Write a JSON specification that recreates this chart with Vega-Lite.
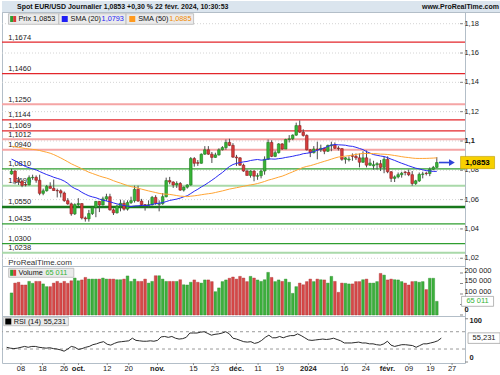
{
"$schema": "https://vega.github.io/schema/vega-lite/v6.json",
"padding": 0,
"background": "#ffffff",
"spacing": 0,
"bounds": "flush",
"config": {
 "font": "Liberation Sans",
 "locale": {"number": {"decimal": ",", "thousands": " ", "grouping": [3], "currency": ["", " €"]}},
 "view": {"stroke": "#b3bec8", "strokeWidth": 1},
 "axis": {"disable": true}
},
"datasets": {
 "entete": [
  {"cote": "gauche", "texte": "Spot EUR/USD Journalier 1,0853 +0,30 % 22 févr. 2024, 10:30:53"},
  {"cote": "droite", "texte": "www.ProRealTime.com"}
 ],
 "legende": [
  {"cle": "prix", "texte": "Prix 1,0853"},
  {"cle": "sma20", "texte": "SMA (20)"},
  {"cle": "sma20v", "texte": "1,0793"},
  {"cle": "sma50", "texte": "SMA (50)"},
  {"cle": "sma50v", "texte": "1,0885"},
  {"cle": "vol", "texte": "Volume"},
  {"cle": "volv", "texte": "65 011"},
  {"cle": "rsi", "texte": "RSI (14)"},
  {"cle": "rsiv", "texte": "55,231"},
  {"cle": "site", "texte": "ProRealTime.com"}
 ],
 "graduations": [
  {"axe": "prix", "valeur": 1.02}, {"axe": "prix", "valeur": 1.04}, {"axe": "prix", "valeur": 1.06},
  {"axe": "prix", "valeur": 1.08}, {"axe": "prix fort", "valeur": 1.1}, {"axe": "prix", "valeur": 1.12},
  {"axe": "prix", "valeur": 1.14}, {"axe": "prix", "valeur": 1.16}, {"axe": "prix", "valeur": 1.18},
  {"axe": "volume fort", "valeur": 0}, {"axe": "volume masqué", "valeur": 50000}, {"axe": "volume", "valeur": 100000},
  {"axe": "volume", "valeur": 150000}, {"axe": "volume", "valeur": 200000},
  {"axe": "rsi bas", "valeur": 0}, {"axe": "rsi haut", "valeur": 100}
 ],
 "dates": [
  {"i": 0, "etiquette": "08", "genre": "jour"},
  {"i": 6, "etiquette": "18", "genre": "jour"},
  {"i": 12, "etiquette": "26", "genre": "jour"},
  {"i": 16, "etiquette": "oct.", "genre": "mois"},
  {"i": 24, "etiquette": "12", "genre": "jour"},
  {"i": 30, "etiquette": "20", "genre": "jour"},
  {"i": 38, "etiquette": "nov.", "genre": "mois"},
  {"i": 48, "etiquette": "15", "genre": "jour"},
  {"i": 54, "etiquette": "23", "genre": "jour"},
  {"i": 60, "etiquette": "déc.", "genre": "mois"},
  {"i": 66, "etiquette": "11", "genre": "jour"},
  {"i": 72, "etiquette": "19", "genre": "jour"},
  {"i": 80, "etiquette": "2024", "genre": "mois"},
  {"i": 90, "etiquette": "16", "genre": "jour"},
  {"i": 96, "etiquette": "24", "genre": "jour"},
  {"i": 102, "etiquette": "févr.", "genre": "mois"},
  {"i": 108, "etiquette": "09", "genre": "jour"},
  {"i": 114, "etiquette": "19", "genre": "jour"},
  {"i": 120, "etiquette": "27", "genre": "jour"}
 ],
 "niveaux": [
  {"niveau": 1.1674, "texte": "1,1674", "type": "résistance"},
  {"niveau": 1.1460, "texte": "1,1460", "type": "résistance"},
  {"niveau": 1.1250, "texte": "1,1250", "type": "résistance mineure"},
  {"niveau": 1.1144, "texte": "1,1144", "type": "résistance"},
  {"niveau": 1.1069, "texte": "1,1069", "type": "résistance"},
  {"niveau": 1.1012, "texte": "1,1012", "type": "résistance mineure"},
  {"niveau": 1.0940, "texte": "1,0940", "type": "résistance mineure"},
  {"niveau": 1.0810, "texte": "1,0810", "type": "support"},
  {"niveau": 1.0695, "texte": "1,0695", "type": "support mineur"},
  {"niveau": 1.0550, "texte": "1,0550", "type": "support majeur"},
  {"niveau": 1.0435, "texte": "1,0435", "type": "support"},
  {"niveau": 1.0300, "texte": "1,0300", "type": "support"},
  {"niveau": 1.0238, "texte": "1,0238", "type": "support mineur"}
 ],
 "seuils": [{"seuil": 70}, {"seuil": 30}],
 "jours": [
{"i":-4,"date":"2023-09-04","o":1.0775,"h":1.0810,"l":1.0770,"c":1.0795,"v":105000,"sma20":1.08763,"sma50":1.09644,"rsi":34},
{"i":-3,"date":"2023-09-05","o":1.0795,"h":1.0800,"l":1.0705,"c":1.0722,"v":152000,"sma20":1.08646,"sma50":1.09596,"rsi":32},
{"i":-2,"date":"2023-09-06","o":1.0728,"h":1.0755,"l":1.0700,"c":1.0725,"v":156000,"sma20":1.08521,"sma50":1.09558,"rsi":31},
{"i":-1,"date":"2023-09-07","o":1.0725,"h":1.0730,"l":1.0685,"c":1.0697,"v":143000,"sma20":1.08380,"sma50":1.09524,"rsi":32},
{"i":0,"date":"2023-09-08","o":1.0703,"h":1.0720,"l":1.0690,"c":1.0700,"v":143000,"sma20":1.08255,"sma50":1.09482,"rsi":34},
{"i":1,"date":"2023-09-11","o":1.0700,"h":1.0765,"l":1.0698,"c":1.0750,"v":160000,"sma20":1.08177,"sma50":1.09450,"rsi":36},
{"i":2,"date":"2023-09-12","o":1.0750,"h":1.0770,"l":1.0735,"c":1.0752,"v":151000,"sma20":1.08101,"sma50":1.09425,"rsi":34},
{"i":3,"date":"2023-09-13","o":1.0752,"h":1.0765,"l":1.0715,"c":1.0732,"v":160000,"sma20":1.08029,"sma50":1.09400,"rsi":36},
{"i":4,"date":"2023-09-14","o":1.0732,"h":1.0770,"l":1.0630,"c":1.0643,"v":160000,"sma20":1.07915,"sma50":1.09351,"rsi":36},
{"i":5,"date":"2023-09-15","o":1.0643,"h":1.0675,"l":1.0630,"c":1.0660,"v":148000,"sma20":1.07810,"sma50":1.09289,"rsi":34},
{"i":6,"date":"2023-09-18","o":1.0660,"h":1.0700,"l":1.0655,"c":1.0690,"v":135000,"sma20":1.07708,"sma50":1.09233,"rsi":33},
{"i":7,"date":"2023-09-19","o":1.0690,"h":1.0718,"l":1.0675,"c":1.0677,"v":135000,"sma20":1.07624,"sma50":1.09166,"rsi":32},
{"i":8,"date":"2023-09-20","o":1.0677,"h":1.0737,"l":1.0660,"c":1.0662,"v":152000,"sma20":1.07525,"sma50":1.09073,"rsi":33},
{"i":9,"date":"2023-09-21","o":1.0662,"h":1.0675,"l":1.0615,"c":1.0660,"v":160000,"sma20":1.07450,"sma50":1.08960,"rsi":31},
{"i":10,"date":"2023-09-22","o":1.0660,"h":1.0670,"l":1.0615,"c":1.0645,"v":152000,"sma20":1.07375,"sma50":1.08843,"rsi":30},
{"i":11,"date":"2023-09-25","o":1.0645,"h":1.0655,"l":1.0585,"c":1.0593,"v":160000,"sma20":1.07264,"sma50":1.08714,"rsi":28},
{"i":12,"date":"2023-09-26","o":1.0593,"h":1.0610,"l":1.0565,"c":1.0571,"v":151000,"sma20":1.07109,"sma50":1.08583,"rsi":25},
{"i":13,"date":"2023-09-27","o":1.0571,"h":1.0580,"l":1.0490,"c":1.0503,"v":163000,"sma20":1.06898,"sma50":1.08444,"rsi":30},
{"i":14,"date":"2023-09-28","o":1.0503,"h":1.0575,"l":1.0495,"c":1.0566,"v":176000,"sma20":1.06759,"sma50":1.08331,"rsi":36},
{"i":15,"date":"2023-09-29","o":1.0566,"h":1.0610,"l":1.0555,"c":1.0573,"v":163000,"sma20":1.06658,"sma50":1.08221,"rsi":34},
{"i":16,"date":"2023-10-02","o":1.0573,"h":1.0575,"l":1.0465,"c":1.0475,"v":167000,"sma20":1.06498,"sma50":1.08103,"rsi":29},
{"i":17,"date":"2023-10-03","o":1.0475,"h":1.0485,"l":1.0450,"c":1.0469,"v":179000,"sma20":1.06371,"sma50":1.07986,"rsi":31},
{"i":18,"date":"2023-10-04","o":1.0469,"h":1.0530,"l":1.0450,"c":1.0505,"v":171000,"sma20":1.06261,"sma50":1.07870,"rsi":34},
{"i":19,"date":"2023-10-05","o":1.0505,"h":1.0550,"l":1.0495,"c":1.0546,"v":171000,"sma20":1.06186,"sma50":1.07784,"rsi":36},
{"i":20,"date":"2023-10-06","o":1.0546,"h":1.0590,"l":1.0480,"c":1.0588,"v":171000,"sma20":1.06130,"sma50":1.07698,"rsi":40},
{"i":21,"date":"2023-10-09","o":1.0588,"h":1.0590,"l":1.0515,"c":1.0564,"v":171000,"sma20":1.06037,"sma50":1.07612,"rsi":42},
{"i":22,"date":"2023-10-10","o":1.0564,"h":1.0620,"l":1.0560,"c":1.0605,"v":176000,"sma20":1.05963,"sma50":1.07536,"rsi":45},
{"i":23,"date":"2023-10-11","o":1.0605,"h":1.0640,"l":1.0590,"c":1.0620,"v":171000,"sma20":1.05907,"sma50":1.07473,"rsi":47},
{"i":24,"date":"2023-10-12","o":1.0620,"h":1.0640,"l":1.0525,"c":1.0530,"v":171000,"sma20":1.05851,"sma50":1.07390,"rsi":41},
{"i":25,"date":"2023-10-13","o":1.0530,"h":1.0540,"l":1.0495,"c":1.0510,"v":171000,"sma20":1.05776,"sma50":1.07291,"rsi":39},
{"i":26,"date":"2023-10-16","o":1.0510,"h":1.0565,"l":1.0505,"c":1.0555,"v":168000,"sma20":1.05708,"sma50":1.07203,"rsi":43},
{"i":27,"date":"2023-10-17","o":1.0555,"h":1.0600,"l":1.0520,"c":1.0575,"v":168000,"sma20":1.05657,"sma50":1.07127,"rsi":46},
{"i":28,"date":"2023-10-18","o":1.0575,"h":1.0595,"l":1.0525,"c":1.0535,"v":171000,"sma20":1.05594,"sma50":1.07039,"rsi":47},
{"i":29,"date":"2023-10-19","o":1.0535,"h":1.0595,"l":1.0525,"c":1.0580,"v":186000,"sma20":1.05554,"sma50":1.06959,"rsi":48},
{"i":30,"date":"2023-10-20","o":1.0580,"h":1.0620,"l":1.0570,"c":1.0593,"v":160000,"sma20":1.05528,"sma50":1.06887,"rsi":49},
{"i":31,"date":"2023-10-23","o":1.0593,"h":1.0695,"l":1.0580,"c":1.0670,"v":171000,"sma20":1.05566,"sma50":1.06840,"rsi":55},
{"i":32,"date":"2023-10-24","o":1.0670,"h":1.0695,"l":1.0585,"c":1.0590,"v":160000,"sma20":1.05576,"sma50":1.06777,"rsi":50},
{"i":33,"date":"2023-10-25","o":1.0590,"h":1.0605,"l":1.0555,"c":1.0565,"v":160000,"sma20":1.05607,"sma50":1.06715,"rsi":49},
{"i":34,"date":"2023-10-26","o":1.0565,"h":1.0570,"l":1.0525,"c":1.0562,"v":171000,"sma20":1.05606,"sma50":1.06654,"rsi":48},
{"i":35,"date":"2023-10-27","o":1.0562,"h":1.0595,"l":1.0545,"c":1.0565,"v":152000,"sma20":1.05602,"sma50":1.06593,"rsi":48},
{"i":36,"date":"2023-10-30","o":1.0565,"h":1.0625,"l":1.0560,"c":1.0615,"v":160000,"sma20":1.05672,"sma50":1.06537,"rsi":49},
{"i":37,"date":"2023-10-31","o":1.0615,"h":1.0630,"l":1.0565,"c":1.0575,"v":187000,"sma20":1.05725,"sma50":1.06483,"rsi":48},
{"i":38,"date":"2023-11-01","o":1.0568,"h":1.0595,"l":1.0520,"c":1.0572,"v":187000,"sma20":1.05758,"sma50":1.06425,"rsi":50},
{"i":39,"date":"2023-11-02","o":1.0572,"h":1.0645,"l":1.0565,"c":1.0620,"v":171000,"sma20":1.05795,"sma50":1.06387,"rsi":58},
{"i":40,"date":"2023-11-03","o":1.0620,"h":1.0750,"l":1.0615,"c":1.0730,"v":160000,"sma20":1.05866,"sma50":1.06374,"rsi":59},
{"i":41,"date":"2023-11-06","o":1.0730,"h":1.0755,"l":1.0705,"c":1.0720,"v":160000,"sma20":1.05944,"sma50":1.06355,"rsi":57},
{"i":42,"date":"2023-11-07","o":1.0720,"h":1.0725,"l":1.0680,"c":1.0700,"v":160000,"sma20":1.05991,"sma50":1.06319,"rsi":59},
{"i":43,"date":"2023-11-08","o":1.0700,"h":1.0725,"l":1.0680,"c":1.0710,"v":160000,"sma20":1.06036,"sma50":1.06276,"rsi":55},
{"i":44,"date":"2023-11-09","o":1.0710,"h":1.0720,"l":1.0660,"c":1.0665,"v":168000,"sma20":1.06104,"sma50":1.06240,"rsi":53},
{"i":45,"date":"2023-11-10","o":1.0665,"h":1.0690,"l":1.0655,"c":1.0685,"v":144000,"sma20":1.06191,"sma50":1.06222,"rsi":54},
{"i":46,"date":"2023-11-13","o":1.0685,"h":1.0705,"l":1.0675,"c":1.0700,"v":143000,"sma20":1.06264,"sma50":1.06203,"rsi":57},
{"i":47,"date":"2023-11-14","o":1.0700,"h":1.0890,"l":1.0695,"c":1.0880,"v":156000,"sma20":1.06416,"sma50":1.06235,"rsi":67},
{"i":48,"date":"2023-11-15","o":1.0880,"h":1.0890,"l":1.0825,"c":1.0848,"v":167000,"sma20":1.06573,"sma50":1.06259,"rsi":67},
{"i":49,"date":"2023-11-16","o":1.0852,"h":1.0870,"l":1.0830,"c":1.0848,"v":156000,"sma20":1.06708,"sma50":1.06290,"rsi":67},
{"i":50,"date":"2023-11-17","o":1.0848,"h":1.0915,"l":1.0845,"c":1.0910,"v":152000,"sma20":1.06866,"sma50":1.06332,"rsi":69},
{"i":51,"date":"2023-11-20","o":1.0910,"h":1.0965,"l":1.0905,"c":1.0940,"v":167000,"sma20":1.07001,"sma50":1.06370,"rsi":70},
{"i":52,"date":"2023-11-21","o":1.0940,"h":1.0965,"l":1.0905,"c":1.0910,"v":167000,"sma20":1.07161,"sma50":1.06402,"rsi":66},
{"i":53,"date":"2023-11-22","o":1.0910,"h":1.0925,"l":1.0850,"c":1.0888,"v":159000,"sma20":1.07323,"sma50":1.06433,"rsi":62},
{"i":54,"date":"2023-11-23","o":1.0888,"h":1.0920,"l":1.0885,"c":1.0905,"v":111000,"sma20":1.07493,"sma50":1.06485,"rsi":64},
{"i":55,"date":"2023-11-24","o":1.0905,"h":1.0950,"l":1.0900,"c":1.0940,"v":129000,"sma20":1.07680,"sma50":1.06541,"rsi":65},
{"i":56,"date":"2023-11-27","o":1.0940,"h":1.0965,"l":1.0935,"c":1.0955,"v":159000,"sma20":1.07850,"sma50":1.06594,"rsi":67},
{"i":57,"date":"2023-11-28","o":1.0955,"h":1.1010,"l":1.0940,"c":1.0990,"v":167000,"sma20":1.08058,"sma50":1.06657,"rsi":70},
{"i":58,"date":"2023-11-29","o":1.0990,"h":1.1015,"l":1.0965,"c":1.0970,"v":175000,"sma20":1.08258,"sma50":1.06718,"rsi":65},
{"i":59,"date":"2023-11-30","o":1.0970,"h":1.0985,"l":1.0885,"c":1.0890,"v":181000,"sma20":1.08393,"sma50":1.06764,"rsi":55},
{"i":60,"date":"2023-12-01","o":1.0890,"h":1.0905,"l":1.0830,"c":1.0885,"v":171000,"sma20":1.08471,"sma50":1.06812,"rsi":53},
{"i":61,"date":"2023-12-04","o":1.0885,"h":1.0890,"l":1.0830,"c":1.0835,"v":184000,"sma20":1.08528,"sma50":1.06861,"rsi":50},
{"i":62,"date":"2023-12-05","o":1.0835,"h":1.0845,"l":1.0790,"c":1.0795,"v":176000,"sma20":1.08576,"sma50":1.06906,"rsi":47},
{"i":63,"date":"2023-12-06","o":1.0795,"h":1.0805,"l":1.0765,"c":1.0765,"v":159000,"sma20":1.08603,"sma50":1.06958,"rsi":46},
{"i":64,"date":"2023-12-07","o":1.0765,"h":1.0800,"l":1.0750,"c":1.0795,"v":184000,"sma20":1.08668,"sma50":1.07004,"rsi":47},
{"i":65,"date":"2023-12-08","o":1.0795,"h":1.0800,"l":1.0725,"c":1.0760,"v":176000,"sma20":1.08706,"sma50":1.07041,"rsi":43},
{"i":66,"date":"2023-12-11","o":1.0760,"h":1.0780,"l":1.0735,"c":1.0763,"v":167000,"sma20":1.08737,"sma50":1.07099,"rsi":45},
{"i":67,"date":"2023-12-12","o":1.0763,"h":1.0805,"l":1.0745,"c":1.0795,"v":160000,"sma20":1.08695,"sma50":1.07164,"rsi":50},
{"i":68,"date":"2023-12-13","o":1.0795,"h":1.0895,"l":1.0770,"c":1.0875,"v":168000,"sma20":1.08708,"sma50":1.07238,"rsi":57},
{"i":69,"date":"2023-12-14","o":1.0875,"h":1.1010,"l":1.0870,"c":1.0990,"v":203000,"sma20":1.08778,"sma50":1.07327,"rsi":62},
{"i":70,"date":"2023-12-15","o":1.0990,"h":1.1005,"l":1.0890,"c":1.0895,"v":179000,"sma20":1.08771,"sma50":1.07388,"rsi":56},
{"i":71,"date":"2023-12-18","o":1.0895,"h":1.0935,"l":1.0890,"c":1.0920,"v":159000,"sma20":1.08761,"sma50":1.07459,"rsi":56},
{"i":72,"date":"2023-12-19","o":1.0920,"h":1.0985,"l":1.0915,"c":1.0980,"v":167000,"sma20":1.08796,"sma50":1.07534,"rsi":59},
{"i":73,"date":"2023-12-20","o":1.0980,"h":1.0985,"l":1.0940,"c":1.0945,"v":160000,"sma20":1.08824,"sma50":1.07599,"rsi":56},
{"i":74,"date":"2023-12-21","o":1.0945,"h":1.1015,"l":1.0945,"c":1.1010,"v":171000,"sma20":1.08877,"sma50":1.07695,"rsi":59},
{"i":75,"date":"2023-12-22","o":1.1010,"h":1.1040,"l":1.0990,"c":1.1015,"v":156000,"sma20":1.08914,"sma50":1.07796,"rsi":61},
{"i":76,"date":"2023-12-26","o":1.1015,"h":1.1045,"l":1.1005,"c":1.1040,"v":103000,"sma20":1.08957,"sma50":1.07893,"rsi":61},
{"i":77,"date":"2023-12-27","o":1.1040,"h":1.1125,"l":1.1035,"c":1.1105,"v":135000,"sma20":1.09014,"sma50":1.07999,"rsi":65},
{"i":78,"date":"2023-12-28","o":1.1105,"h":1.1140,"l":1.1055,"c":1.1060,"v":152000,"sma20":1.09059,"sma50":1.08104,"rsi":61},
{"i":79,"date":"2023-12-29","o":1.1060,"h":1.1080,"l":1.1030,"c":1.1038,"v":144000,"sma20":1.09133,"sma50":1.08196,"rsi":56},
{"i":80,"date":"2024-01-02","o":1.1038,"h":1.1045,"l":1.0935,"c":1.0940,"v":159000,"sma20":1.09161,"sma50":1.08265,"rsi":51},
{"i":81,"date":"2024-01-03","o":1.0940,"h":1.0945,"l":1.0890,"c":1.0920,"v":171000,"sma20":1.09203,"sma50":1.08315,"rsi":50},
{"i":82,"date":"2024-01-04","o":1.0920,"h":1.0965,"l":1.0915,"c":1.0945,"v":159000,"sma20":1.09278,"sma50":1.08386,"rsi":51},
{"i":83,"date":"2024-01-05","o":1.0945,"h":1.0995,"l":1.0875,"c":1.0940,"v":171000,"sma20":1.09366,"sma50":1.08461,"rsi":52},
{"i":84,"date":"2024-01-08","o":1.0940,"h":1.0975,"l":1.0925,"c":1.0950,"v":168000,"sma20":1.09443,"sma50":1.08538,"rsi":53},
{"i":85,"date":"2024-01-09","o":1.0950,"h":1.0955,"l":1.0910,"c":1.0930,"v":167000,"sma20":1.09528,"sma50":1.08611,"rsi":52},
{"i":86,"date":"2024-01-10","o":1.0930,"h":1.0975,"l":1.0925,"c":1.0970,"v":152000,"sma20":1.09632,"sma50":1.08682,"rsi":53},
{"i":87,"date":"2024-01-11","o":1.0967,"h":1.0995,"l":1.0930,"c":1.0973,"v":184000,"sma20":1.09719,"sma50":1.08761,"rsi":55},
{"i":88,"date":"2024-01-12","o":1.0973,"h":1.0990,"l":1.0945,"c":1.0950,"v":160000,"sma20":1.09757,"sma50":1.08837,"rsi":52},
{"i":89,"date":"2024-01-15","o":1.0952,"h":1.0965,"l":1.0935,"c":1.0948,"v":108000,"sma20":1.09737,"sma50":1.08903,"rsi":49},
{"i":90,"date":"2024-01-16","o":1.0948,"h":1.0950,"l":1.0865,"c":1.0875,"v":152000,"sma20":1.09727,"sma50":1.08932,"rsi":44},
{"i":91,"date":"2024-01-17","o":1.0875,"h":1.0890,"l":1.0845,"c":1.0885,"v":151000,"sma20":1.09709,"sma50":1.08965,"rsi":44},
{"i":92,"date":"2024-01-18","o":1.0872,"h":1.0895,"l":1.0860,"c":1.0877,"v":148000,"sma20":1.09657,"sma50":1.09000,"rsi":44},
{"i":93,"date":"2024-01-19","o":1.0900,"h":1.0915,"l":1.0865,"c":1.0895,"v":148000,"sma20":1.09633,"sma50":1.09038,"rsi":45},
{"i":94,"date":"2024-01-22","o":1.0895,"h":1.0915,"l":1.0870,"c":1.0885,"v":159000,"sma20":1.09570,"sma50":1.09082,"rsi":46},
{"i":95,"date":"2024-01-23","o":1.0885,"h":1.0915,"l":1.0820,"c":1.0855,"v":159000,"sma20":1.09490,"sma50":1.09116,"rsi":44},
{"i":96,"date":"2024-01-24","o":1.0855,"h":1.0930,"l":1.0850,"c":1.0885,"v":168000,"sma20":1.09413,"sma50":1.09153,"rsi":44},
{"i":97,"date":"2024-01-25","o":1.0885,"h":1.0935,"l":1.0820,"c":1.0835,"v":171000,"sma20":1.09278,"sma50":1.09144,"rsi":42},
{"i":98,"date":"2024-01-26","o":1.0835,"h":1.0880,"l":1.0830,"c":1.0850,"v":152000,"sma20":1.09173,"sma50":1.09144,"rsi":42},
{"i":99,"date":"2024-01-29","o":1.0830,"h":1.0865,"l":1.0805,"c":1.0838,"v":152000,"sma20":1.09071,"sma50":1.09141,"rsi":40},
{"i":100,"date":"2024-01-30","o":1.0838,"h":1.0855,"l":1.0805,"c":1.0845,"v":159000,"sma20":1.09024,"sma50":1.09128,"rsi":39},
{"i":101,"date":"2024-01-31","o":1.0845,"h":1.0870,"l":1.0795,"c":1.0820,"v":198000,"sma20":1.08974,"sma50":1.09104,"rsi":42},
{"i":102,"date":"2024-02-01","o":1.0820,"h":1.0895,"l":1.0780,"c":1.0875,"v":190000,"sma20":1.08939,"sma50":1.09097,"rsi":48},
{"i":103,"date":"2024-02-02","o":1.0875,"h":1.0895,"l":1.0780,"c":1.0790,"v":167000,"sma20":1.08864,"sma50":1.09078,"rsi":39},
{"i":104,"date":"2024-02-05","o":1.0790,"h":1.0795,"l":1.0720,"c":1.0745,"v":171000,"sma20":1.08761,"sma50":1.09046,"rsi":36},
{"i":105,"date":"2024-02-06","o":1.0745,"h":1.0765,"l":1.0720,"c":1.0755,"v":168000,"sma20":1.08674,"sma50":1.09009,"rsi":38},
{"i":106,"date":"2024-02-07","o":1.0755,"h":1.0785,"l":1.0745,"c":1.0770,"v":167000,"sma20":1.08574,"sma50":1.08972,"rsi":40},
{"i":107,"date":"2024-02-08","o":1.0770,"h":1.0790,"l":1.0750,"c":1.0780,"v":159000,"sma20":1.08479,"sma50":1.08930,"rsi":40},
{"i":108,"date":"2024-02-09","o":1.0788,"h":1.0795,"l":1.0765,"c":1.0785,"v":152000,"sma20":1.08396,"sma50":1.08893,"rsi":39},
{"i":109,"date":"2024-02-12","o":1.0785,"h":1.0805,"l":1.0760,"c":1.0770,"v":143000,"sma20":1.08306,"sma50":1.08869,"rsi":38},
{"i":110,"date":"2024-02-13","o":1.0770,"h":1.0795,"l":1.0695,"c":1.0710,"v":159000,"sma20":1.08224,"sma50":1.08834,"rsi":34},
{"i":111,"date":"2024-02-14","o":1.0710,"h":1.0735,"l":1.0700,"c":1.0728,"v":160000,"sma20":1.08145,"sma50":1.08812,"rsi":38},
{"i":112,"date":"2024-02-15","o":1.0728,"h":1.0785,"l":1.0720,"c":1.0772,"v":156000,"sma20":1.08094,"sma50":1.08808,"rsi":42},
{"i":113,"date":"2024-02-16","o":1.0772,"h":1.0790,"l":1.0745,"c":1.0775,"v":159000,"sma20":1.08033,"sma50":1.08810,"rsi":42},
{"i":114,"date":"2024-02-19","o":1.0780,"h":1.0790,"l":1.0765,"c":1.0778,"v":121000,"sma20":1.07979,"sma50":1.08812,"rsi":44},
{"i":115,"date":"2024-02-20","o":1.0778,"h":1.0820,"l":1.0760,"c":1.0807,"v":175000,"sma20":1.07955,"sma50":1.08822,"rsi":46},
{"i":116,"date":"2024-02-21","o":1.0807,"h":1.0830,"l":1.0800,"c":1.0820,"v":175000,"sma20":1.07922,"sma50":1.08833,"rsi":49},
{"i":117,"date":"2024-02-22","o":1.0820,"h":1.0890,"l":1.0815,"c":1.0853,"v":65011,"sma20":1.0793,"sma50":1.0885,"rsi":55.231}
 ]
},
"vconcat": [
 {
  "width": 500, "height": 11,
  "data": {"name": "entete"},
  "layer": [
   {"transform": [{"filter": "datum.cote === 'gauche'"}],
    "mark": {"type": "rect", "color": "#dbe5ee"},
    "encoding": {
     "x": {"datum": 0, "type": "quantitative", "scale": {"domain": [0, 1], "nice": false, "zero": false}, "axis": null},
     "x2": {"datum": 1},
     "y": {"datum": 0, "type": "quantitative", "scale": {"domain": [0, 1], "nice": false, "zero": false}, "axis": null},
     "y2": {"datum": 1}}},
   {"transform": [{"filter": "datum.cote === 'gauche'"}],
    "mark": {"type": "text", "align": "left", "baseline": "middle", "dx": 15, "fontWeight": "bold", "fontSize": 7, "color": "#111111"},
    "encoding": {"x": {"datum": 0, "type": "quantitative", "axis": null}, "y": {"datum": 0.5, "type": "quantitative", "axis": null}, "text": {"field": "texte"}}},
   {"transform": [{"filter": "datum.cote === 'droite'"}],
    "mark": {"type": "text", "align": "right", "baseline": "middle", "dx": -3, "fontWeight": "bold", "fontSize": 7, "color": "#111111"},
    "encoding": {"x": {"datum": 1, "type": "quantitative", "axis": null}, "y": {"datum": 0.5, "type": "quantitative", "axis": null}, "text": {"field": "texte"}}}
  ]
 },
 {
  "width": 463, "height": 254,
  "layer": [
   {
    "data": {"name": "graduations"},
    "transform": [{"filter": "datum.axe === 'prix' || datum.axe === 'prix fort'"}],
    "mark": {"type": "rule", "color": "#d4d4d4", "strokeDash": [1, 2], "strokeWidth": 1},
    "encoding": {
     "y": {"field": "valeur", "type": "quantitative", "axis": null,
       "scale": {"domain": [1.01472, 1.18798], "nice": false, "zero": false}}
    }
   },
   {
    "data": {"name": "graduations"},
    "transform": [{"filter": "datum.axe === 'prix' || datum.axe === 'prix fort'"}],
    "mark": {"type": "rule", "color": "#888888", "strokeWidth": 1},
    "encoding": {
     "x": {"datum": 123.6, "type": "quantitative", "axis": null, "scale": {"domain": [-5.29, 123.6], "nice": false, "zero": false}},
     "x2": {"datum": 124.45},
     "y": {"field": "valeur", "type": "quantitative", "axis": null}
    }
   },
   {
    "data": {"name": "graduations"},
    "transform": [{"filter": "datum.axe === 'prix'"}],
    "mark": {"type": "text", "align": "left", "baseline": "middle", "fontSize": 7.5, "color": "#222222"},
    "encoding": {
     "x": {"datum": 124.86, "type": "quantitative", "axis": null},
     "y": {"field": "valeur", "type": "quantitative", "axis": null},
     "text": {"field": "valeur", "type": "quantitative", "format": ".2~f"}
    }
   },
   {
    "data": {"name": "graduations"},
    "transform": [{"filter": "datum.axe === 'prix fort'"}],
    "mark": {"type": "text", "align": "left", "baseline": "middle", "fontSize": 7.5, "fontWeight": "bold", "color": "#222222"},
    "encoding": {
     "x": {"datum": 124.86, "type": "quantitative", "axis": null},
     "y": {"field": "valeur", "type": "quantitative", "axis": null},
     "text": {"field": "valeur", "type": "quantitative", "format": ".2~f"}
    }
   },
   {
    "data": {"name": "niveaux"},
    "transform": [{"filter": "datum.type === 'résistance'"}],
    "mark": {"type": "rule", "color": "#e3262b", "strokeWidth": 1.2},
    "encoding": {"y": {"field": "niveau", "type": "quantitative", "axis": null}}
   },
   {
    "data": {"name": "niveaux"},
    "transform": [{"filter": "datum.type === 'résistance mineure'"}],
    "mark": {"type": "rule", "color": "#f5a5a5", "strokeWidth": 2},
    "encoding": {"y": {"field": "niveau", "type": "quantitative", "axis": null}}
   },
   {
    "data": {"name": "niveaux"},
    "transform": [{"filter": "datum.type === 'support'"}],
    "mark": {"type": "rule", "color": "#2f9e2f", "strokeWidth": 1.2},
    "encoding": {"y": {"field": "niveau", "type": "quantitative", "axis": null}}
   },
   {
    "data": {"name": "niveaux"},
    "transform": [{"filter": "datum.type === 'support mineur'"}],
    "mark": {"type": "rule", "color": "#a9d9a9", "strokeWidth": 2},
    "encoding": {"y": {"field": "niveau", "type": "quantitative", "axis": null}}
   },
   {
    "data": {"name": "niveaux"},
    "transform": [{"filter": "datum.type === 'support majeur'"}],
    "mark": {"type": "rule", "color": "#17781b", "strokeWidth": 2.5},
    "encoding": {"y": {"field": "niveau", "type": "quantitative", "axis": null}}
   },
   {
    "data": {"name": "niveaux"},
    "mark": {"type": "text", "align": "left", "baseline": "bottom", "dy": -0.5, "fontSize": 7.5, "color": "#1a1a1a"},
    "encoding": {
     "x": {"datum": -4.95, "type": "quantitative", "axis": null},
     "y": {"field": "niveau", "type": "quantitative", "axis": null},
     "text": {"field": "texte"}
    }
   },
   {
    "data": {"name": "jours"},
    "mark": {"type": "rule", "color": "#4d4d4d", "strokeWidth": 1},
    "encoding": {
     "x": {"field": "i", "type": "quantitative", "axis": null},
     "y": {"field": "l", "type": "quantitative", "axis": null},
     "y2": {"field": "h"}
    }
   },
   {
    "data": {"name": "jours"},
    "mark": {"type": "bar", "size": 2.6, "strokeWidth": 0.6},
    "encoding": {
     "x": {"field": "i", "type": "quantitative", "axis": null},
     "y": {"field": "o", "type": "quantitative", "axis": null},
     "y2": {"field": "c"},
     "fill": {"condition": {"test": "datum.c >= datum.o", "value": "#37b337"}, "value": "#d83c3c"},
     "stroke": {"condition": {"test": "datum.c >= datum.o", "value": "#1f7d1f"}, "value": "#8f1f1f"}
    }
   },
   {
    "data": {"name": "jours"},
    "mark": {"type": "line", "color": "#2a2af2", "strokeWidth": 1},
    "encoding": {
     "x": {"field": "i", "type": "quantitative", "axis": null},
     "y": {"field": "sma20", "type": "quantitative", "axis": null}
    }
   },
   {
    "data": {"name": "jours"},
    "mark": {"type": "line", "color": "#ffa534", "strokeWidth": 1},
    "encoding": {
     "x": {"field": "i", "type": "quantitative", "axis": null},
     "y": {"field": "sma50", "type": "quantitative", "axis": null}
    }
   },
   {
    "data": {"name": "jours"},
    "transform": [{"filter": "datum.i === 117"}],
    "mark": {"type": "rule", "color": "#2f45d8", "strokeWidth": 1.6},
    "encoding": {
     "x": {"datum": 117.6, "type": "quantitative", "axis": null},
     "x2": {"datum": 121.0},
     "y": {"field": "c", "type": "quantitative", "axis": null}
    }
   },
   {
    "data": {"name": "jours"},
    "transform": [{"filter": "datum.i === 117"}],
    "mark": {"type": "point", "shape": "triangle-right", "filled": true, "size": 45, "color": "#2f45d8", "opacity": 1},
    "encoding": {
     "x": {"datum": 121.3, "type": "quantitative", "axis": null},
     "y": {"field": "c", "type": "quantitative", "axis": null}
    }
   },
   {
    "data": {"name": "jours"},
    "transform": [{"filter": "datum.i === 117"}],
    "mark": {"type": "point", "shape": "M-1,-0.36L1,-0.36L1,0.36L-1,0.36Z", "filled": true, "fill": "#f7d000", "stroke": "#b89b00", "strokeWidth": 0.6, "size": 1156, "opacity": 1},
    "encoding": {
     "x": {"datum": 128.6, "type": "quantitative", "axis": null},
     "y": {"field": "c", "type": "quantitative", "axis": null}
    }
   },
   {
    "data": {"name": "jours"},
    "transform": [{"filter": "datum.i === 117"}],
    "mark": {"type": "text", "fontWeight": "bold", "fontSize": 8, "color": "#000000"},
    "encoding": {
     "x": {"datum": 128.6, "type": "quantitative", "axis": null},
     "y": {"field": "c", "type": "quantitative", "axis": null},
     "text": {"field": "c", "type": "quantitative", "format": ".4f"}
    }
   },
   {
    "data": {"name": "legende"},
    "transform": [{"filter": "datum.cle === 'site'"}],
    "mark": {"type": "text", "align": "left", "baseline": "middle", "fontSize": 8, "color": "#333333"},
    "encoding": {
     "x": {"datum": -4.95, "type": "quantitative", "axis": null},
     "y": {"datum": 1.0168, "type": "quantitative", "axis": null},
     "text": {"field": "texte"}
    }
   },
   {
    "data": {"name": "legende"},
    "transform": [{"filter": "datum.cle === 'prix'"}],
    "mark": {"type": "rect", "fill": "#ebebeb", "stroke": "#b8b8b8", "strokeWidth": 0.8},
    "encoding": {"x": {"datum": -4.87, "type": "quantitative", "axis": null}, "x2": {"datum": 9.46}, "y": {"datum": 1.18682, "type": "quantitative", "axis": null}, "y2": {"datum": 1.17959}}
   },
   {
    "data": {"name": "legende"},
    "transform": [{"filter": "datum.cle === 'sma20'"}],
    "mark": {"type": "rect", "fill": "#ebebeb", "stroke": "#b8b8b8", "strokeWidth": 0.8},
    "encoding": {"x": {"datum": 9.46, "type": "quantitative", "axis": null}, "x2": {"datum": 28.59}, "y": {"datum": 1.18682, "type": "quantitative", "axis": null}, "y2": {"datum": 1.17959}}
   },
   {
    "data": {"name": "legende"},
    "transform": [{"filter": "datum.cle === 'sma50'"}],
    "mark": {"type": "rect", "fill": "#ebebeb", "stroke": "#b8b8b8", "strokeWidth": 0.8},
    "encoding": {"x": {"datum": 28.59, "type": "quantitative", "axis": null}, "x2": {"datum": 47.8}, "y": {"datum": 1.18682, "type": "quantitative", "axis": null}, "y2": {"datum": 1.17959}}
   },
   {
    "data": {"name": "legende"},
    "transform": [{"filter": "datum.cle === 'prix'"}],
    "mark": {"type": "point", "shape": "M-1,-1L0,-1L0,1L-1,1Z", "filled": true, "color": "#2f9e2f", "size": 36, "opacity": 1},
    "encoding": {"x": {"datum": -3.54, "type": "quantitative", "axis": null}, "y": {"datum": 1.18321, "type": "quantitative", "axis": null}}
   },
   {
    "data": {"name": "legende"},
    "transform": [{"filter": "datum.cle === 'prix'"}],
    "mark": {"type": "point", "shape": "M0,-1L1,-1L1,1L0,1Z", "filled": true, "color": "#d83c3c", "size": 36, "opacity": 1},
    "encoding": {"x": {"datum": -3.54, "type": "quantitative", "axis": null}, "y": {"datum": 1.18321, "type": "quantitative", "axis": null}}
   },
   {
    "data": {"name": "legende"},
    "transform": [{"filter": "datum.cle === 'sma20'"}],
    "mark": {"type": "point", "shape": "square", "filled": true, "color": "#1f1ff5", "size": 36, "opacity": 1},
    "encoding": {"x": {"datum": 11.14, "type": "quantitative", "axis": null}, "y": {"datum": 1.18321, "type": "quantitative", "axis": null}}
   },
   {
    "data": {"name": "legende"},
    "transform": [{"filter": "datum.cle === 'sma50'"}],
    "mark": {"type": "point", "shape": "square", "filled": true, "color": "#ff9a1f", "size": 36, "opacity": 1},
    "encoding": {"x": {"datum": 30.35, "type": "quantitative", "axis": null}, "y": {"datum": 1.18321, "type": "quantitative", "axis": null}}
   },
   {
    "data": {"name": "legende"},
    "transform": [{"filter": "datum.cle === 'prix'"}],
    "mark": {"type": "text", "align": "left", "baseline": "middle", "fontSize": 7.3, "color": "#111111"},
    "encoding": {"x": {"datum": -2.03, "type": "quantitative", "axis": null}, "y": {"datum": 1.18321, "type": "quantitative", "axis": null}, "text": {"field": "texte"}}
   },
   {
    "data": {"name": "legende"},
    "transform": [{"filter": "datum.cle === 'sma20'"}],
    "mark": {"type": "text", "align": "left", "baseline": "middle", "fontSize": 7.3, "color": "#111111"},
    "encoding": {"x": {"datum": 12.81, "type": "quantitative", "axis": null}, "y": {"datum": 1.18321, "type": "quantitative", "axis": null}, "text": {"field": "texte"}}
   },
   {
    "data": {"name": "legende"},
    "transform": [{"filter": "datum.cle === 'sma20v'"}],
    "mark": {"type": "text", "align": "left", "baseline": "middle", "fontSize": 7.3, "color": "#1f1ff5"},
    "encoding": {"x": {"datum": 21.63, "type": "quantitative", "axis": null}, "y": {"datum": 1.18321, "type": "quantitative", "axis": null}, "text": {"field": "texte"}}
   },
   {
    "data": {"name": "legende"},
    "transform": [{"filter": "datum.cle === 'sma50'"}],
    "mark": {"type": "text", "align": "left", "baseline": "middle", "fontSize": 7.3, "color": "#111111"},
    "encoding": {"x": {"datum": 32.02, "type": "quantitative", "axis": null}, "y": {"datum": 1.18321, "type": "quantitative", "axis": null}, "text": {"field": "texte"}}
   },
   {
    "data": {"name": "legende"},
    "transform": [{"filter": "datum.cle === 'sma50v'"}],
    "mark": {"type": "text", "align": "left", "baseline": "middle", "fontSize": 7.3, "color": "#f08a00"},
    "encoding": {"x": {"datum": 40.84, "type": "quantitative", "axis": null}, "y": {"datum": 1.18321, "type": "quantitative", "axis": null}, "text": {"field": "texte"}}
   }
  ]
 },
 {
  "width": 463, "height": 50,
  "layer": [
   {
    "data": {"name": "jours"},
    "transform": [{"filter": "datum.c >= datum.o"}],
    "mark": {"type": "bar", "size": 2.7, "color": "#3cb03c", "stroke": "#2a8a2a", "strokeWidth": 0.4},
    "encoding": {
     "x": {"field": "i", "type": "quantitative", "scale": {"domain": [-5.29, 123.6], "nice": false, "zero": false}, "axis": null},
     "y": {"field": "v", "type": "quantitative", "axis": null,
       "scale": {"domain": [-4762, 233333], "nice": false, "zero": false}},
     "y2": {"datum": 0}
    }
   },
   {
    "data": {"name": "jours"},
    "transform": [{"filter": "datum.c < datum.o"}],
    "mark": {"type": "bar", "size": 2.7, "color": "#d64848", "stroke": "#a83232", "strokeWidth": 0.4},
    "encoding": {
     "x": {"field": "i", "type": "quantitative", "axis": null},
     "y": {"field": "v", "type": "quantitative", "axis": null},
     "y2": {"datum": 0}
    }
   },
   {
    "data": {"name": "graduations"},
    "transform": [{"filter": "datum.axe === 'volume' || datum.axe === 'volume fort' || datum.axe === 'volume masqué'"}],
    "mark": {"type": "rule", "color": "#888888", "strokeWidth": 1},
    "encoding": {
     "x": {"datum": 123.6, "type": "quantitative", "axis": null},
     "x2": {"datum": 124.45},
     "y": {"field": "valeur", "type": "quantitative", "axis": null}
    }
   },
   {
    "data": {"name": "graduations"},
    "transform": [{"filter": "datum.axe === 'volume'"}],
    "mark": {"type": "text", "align": "left", "baseline": "middle", "dy": -2, "fontSize": 7.5, "color": "#222222"},
    "encoding": {
     "x": {"datum": 124.86, "type": "quantitative", "axis": null},
     "y": {"field": "valeur", "type": "quantitative", "axis": null},
     "text": {"field": "valeur", "type": "quantitative", "format": ",d"}
    }
   },
   {
    "data": {"name": "graduations"},
    "transform": [{"filter": "datum.axe === 'volume fort'"}],
    "mark": {"type": "text", "align": "left", "baseline": "middle", "dy": -4.5, "fontSize": 7.5, "fontWeight": "bold", "color": "#222222"},
    "encoding": {
     "x": {"datum": 124.86, "type": "quantitative", "axis": null},
     "y": {"field": "valeur", "type": "quantitative", "axis": null},
     "text": {"field": "valeur", "type": "quantitative", "format": ",d"}
    }
   },
   {
    "data": {"name": "jours"},
    "transform": [{"filter": "datum.i === 117"}],
    "mark": {"type": "point", "shape": "M-1,-0.31L1,-0.31L1,0.31L-1,0.31Z", "filled": true, "fill": "#ffffff", "stroke": "#9a9a9a", "strokeWidth": 0.7, "size": 1024, "opacity": 1},
    "encoding": {
     "x": {"datum": 128.6, "type": "quantitative", "axis": null},
     "y": {"field": "v", "type": "quantitative", "axis": null}
    }
   },
   {
    "data": {"name": "jours"},
    "transform": [{"filter": "datum.i === 117"}],
    "mark": {"type": "text", "fontSize": 7.5, "color": "#35b335"},
    "encoding": {
     "x": {"datum": 128.6, "type": "quantitative", "axis": null},
     "y": {"field": "v", "type": "quantitative", "axis": null},
     "text": {"field": "v", "type": "quantitative", "format": ",d"}
    }
   },
   {
    "data": {"name": "legende"},
    "transform": [{"filter": "datum.cle === 'vol'"}],
    "mark": {"type": "rect", "fill": "#ebebeb", "stroke": "#b8b8b8", "strokeWidth": 0.8},
    "encoding": {"x": {"datum": -4.82, "type": "quantitative", "axis": null}, "x2": {"datum": 13.72}, "y": {"datum": 222381, "type": "quantitative", "axis": null}, "y2": {"datum": 179524}}
   },
   {
    "data": {"name": "legende"},
    "transform": [{"filter": "datum.cle === 'vol'"}],
    "mark": {"type": "point", "shape": "M-1,-1L0,-1L0,1L-1,1Z", "filled": true, "color": "#2f9e2f", "size": 36, "opacity": 1},
    "encoding": {"x": {"datum": -3.54, "type": "quantitative", "axis": null}, "y": {"datum": 200952, "type": "quantitative", "axis": null}}
   },
   {
    "data": {"name": "legende"},
    "transform": [{"filter": "datum.cle === 'vol'"}],
    "mark": {"type": "point", "shape": "M0,-1L1,-1L1,1L0,1Z", "filled": true, "color": "#d83c3c", "size": 36, "opacity": 1},
    "encoding": {"x": {"datum": -3.54, "type": "quantitative", "axis": null}, "y": {"datum": 200952, "type": "quantitative", "axis": null}}
   },
   {
    "data": {"name": "legende"},
    "transform": [{"filter": "datum.cle === 'vol'"}],
    "mark": {"type": "text", "align": "left", "baseline": "middle", "fontSize": 7.3, "color": "#111111"},
    "encoding": {"x": {"datum": -2.03, "type": "quantitative", "axis": null}, "y": {"datum": 200952, "type": "quantitative", "axis": null}, "text": {"field": "texte"}}
   },
   {
    "data": {"name": "legende"},
    "transform": [{"filter": "datum.cle === 'volv'"}],
    "mark": {"type": "text", "align": "left", "baseline": "middle", "fontSize": 7.3, "color": "#35b335"},
    "encoding": {"x": {"datum": 5.65, "type": "quantitative", "axis": null}, "y": {"datum": 200952, "type": "quantitative", "axis": null}, "text": {"field": "texte"}}
   }
  ]
 },
 {
  "width": 463, "height": 47,
  "layer": [
   {
    "data": {"name": "seuils"},
    "mark": {"type": "rule", "color": "#9a9a9a", "strokeDash": [3, 3], "strokeWidth": 1},
    "encoding": {
     "y": {"field": "seuil", "type": "quantitative", "axis": null,
       "scale": {"domain": [-2.31, 106.36], "nice": false, "zero": false}}
    }
   },
   {
    "data": {"name": "jours"},
    "mark": {"type": "line", "color": "#2b2b2b", "strokeWidth": 1},
    "encoding": {
     "x": {"field": "i", "type": "quantitative", "axis": null,
       "scale": {"domain": [-5.29, 123.6], "nice": false, "zero": false}},
     "y": {"field": "rsi", "type": "quantitative", "axis": null}
    }
   },
   {
    "data": {"name": "graduations"},
    "transform": [{"filter": "datum.axe === 'rsi haut' || datum.axe === 'rsi bas'"}],
    "mark": {"type": "rule", "color": "#888888", "strokeWidth": 1},
    "encoding": {
     "x": {"datum": 123.6, "type": "quantitative", "axis": null},
     "x2": {"datum": 124.45},
     "y": {"field": "valeur", "type": "quantitative", "axis": null}
    }
   },
   {
    "data": {"name": "graduations"},
    "transform": [{"filter": "datum.axe === 'rsi haut'"}],
    "mark": {"type": "text", "align": "left", "baseline": "middle", "dy": 2, "fontSize": 7.5, "fontWeight": "bold", "color": "#222222"},
    "encoding": {
     "x": {"datum": 124.86, "type": "quantitative", "axis": null},
     "y": {"field": "valeur", "type": "quantitative", "axis": null},
     "text": {"field": "valeur", "type": "quantitative", "format": "d"}
    }
   },
   {
    "data": {"name": "graduations"},
    "transform": [{"filter": "datum.axe === 'rsi bas'"}],
    "mark": {"type": "text", "align": "left", "baseline": "middle", "dy": -4, "fontSize": 7.5, "fontWeight": "bold", "color": "#222222"},
    "encoding": {
     "x": {"datum": 124.86, "type": "quantitative", "axis": null},
     "y": {"field": "valeur", "type": "quantitative", "axis": null},
     "text": {"field": "valeur", "type": "quantitative", "format": "d"}
    }
   },
   {
    "data": {"name": "dates"},
    "mark": {"type": "rule", "color": "#888888", "strokeWidth": 1},
    "encoding": {
     "x": {"field": "i", "type": "quantitative", "axis": null},
     "y": {"datum": -2.31, "type": "quantitative", "axis": null},
     "y2": {"datum": -6.9}
    }
   },
   {
    "data": {"name": "dates"},
    "transform": [{"filter": "datum.genre === 'jour'"}],
    "mark": {"type": "text", "align": "center", "baseline": "middle", "fontSize": 7.5, "color": "#222222"},
    "encoding": {
     "x": {"field": "i", "type": "quantitative", "axis": null},
     "y": {"datum": -16.2, "type": "quantitative", "axis": null},
     "text": {"field": "etiquette"}
    }
   },
   {
    "data": {"name": "dates"},
    "transform": [{"filter": "datum.genre === 'mois'"}],
    "mark": {"type": "text", "align": "center", "baseline": "middle", "fontSize": 7.5, "fontWeight": "bold", "color": "#222222"},
    "encoding": {
     "x": {"field": "i", "type": "quantitative", "axis": null},
     "y": {"datum": -16.2, "type": "quantitative", "axis": null},
     "text": {"field": "etiquette"}
    }
   },
   {
    "data": {"name": "jours"},
    "transform": [{"filter": "datum.i === 117"}],
    "mark": {"type": "point", "shape": "M-1,-0.33L1,-0.33L1,0.33L-1,0.33Z", "filled": true, "fill": "#ffffff", "stroke": "#9a9a9a", "strokeWidth": 0.7, "size": 1024, "opacity": 1},
    "encoding": {
     "x": {"datum": 128.9, "type": "quantitative", "axis": null},
     "y": {"field": "rsi", "type": "quantitative", "axis": null}
    }
   },
   {
    "data": {"name": "jours"},
    "transform": [{"filter": "datum.i === 117"}],
    "mark": {"type": "text", "fontSize": 7.5, "color": "#222222"},
    "encoding": {
     "x": {"datum": 128.9, "type": "quantitative", "axis": null},
     "y": {"field": "rsi", "type": "quantitative", "axis": null},
     "text": {"field": "rsi", "type": "quantitative", "format": ".3f"}
    }
   },
   {
    "data": {"name": "legende"},
    "transform": [{"filter": "datum.cle === 'rsi'"}],
    "mark": {"type": "rect", "fill": "#ebebeb", "stroke": "#b8b8b8", "strokeWidth": 0.8},
    "encoding": {"x": {"datum": -4.82, "type": "quantitative", "axis": null}, "x2": {"datum": 13.2}, "y": {"datum": 103.35, "type": "quantitative", "axis": null}, "y2": {"datum": 83.93}}
   },
   {
    "data": {"name": "legende"},
    "transform": [{"filter": "datum.cle === 'rsi'"}],
    "mark": {"type": "point", "shape": "square", "filled": true, "color": "#000000", "size": 36, "opacity": 1},
    "encoding": {"x": {"datum": -3.54, "type": "quantitative", "axis": null}, "y": {"datum": 93.64, "type": "quantitative", "axis": null}}
   },
   {
    "data": {"name": "legende"},
    "transform": [{"filter": "datum.cle === 'rsi'"}],
    "mark": {"type": "text", "align": "left", "baseline": "middle", "fontSize": 7.3, "color": "#111111"},
    "encoding": {"x": {"datum": -2.03, "type": "quantitative", "axis": null}, "y": {"datum": 93.64, "type": "quantitative", "axis": null}, "text": {"field": "texte"}}
   },
   {
    "data": {"name": "legende"},
    "transform": [{"filter": "datum.cle === 'rsiv'"}],
    "mark": {"type": "text", "align": "left", "baseline": "middle", "fontSize": 7.3, "color": "#111111"},
    "encoding": {"x": {"datum": 6.3, "type": "quantitative", "axis": null}, "y": {"datum": 93.64, "type": "quantitative", "axis": null}, "text": {"field": "texte"}}
   }
  ]
 }
]
}
